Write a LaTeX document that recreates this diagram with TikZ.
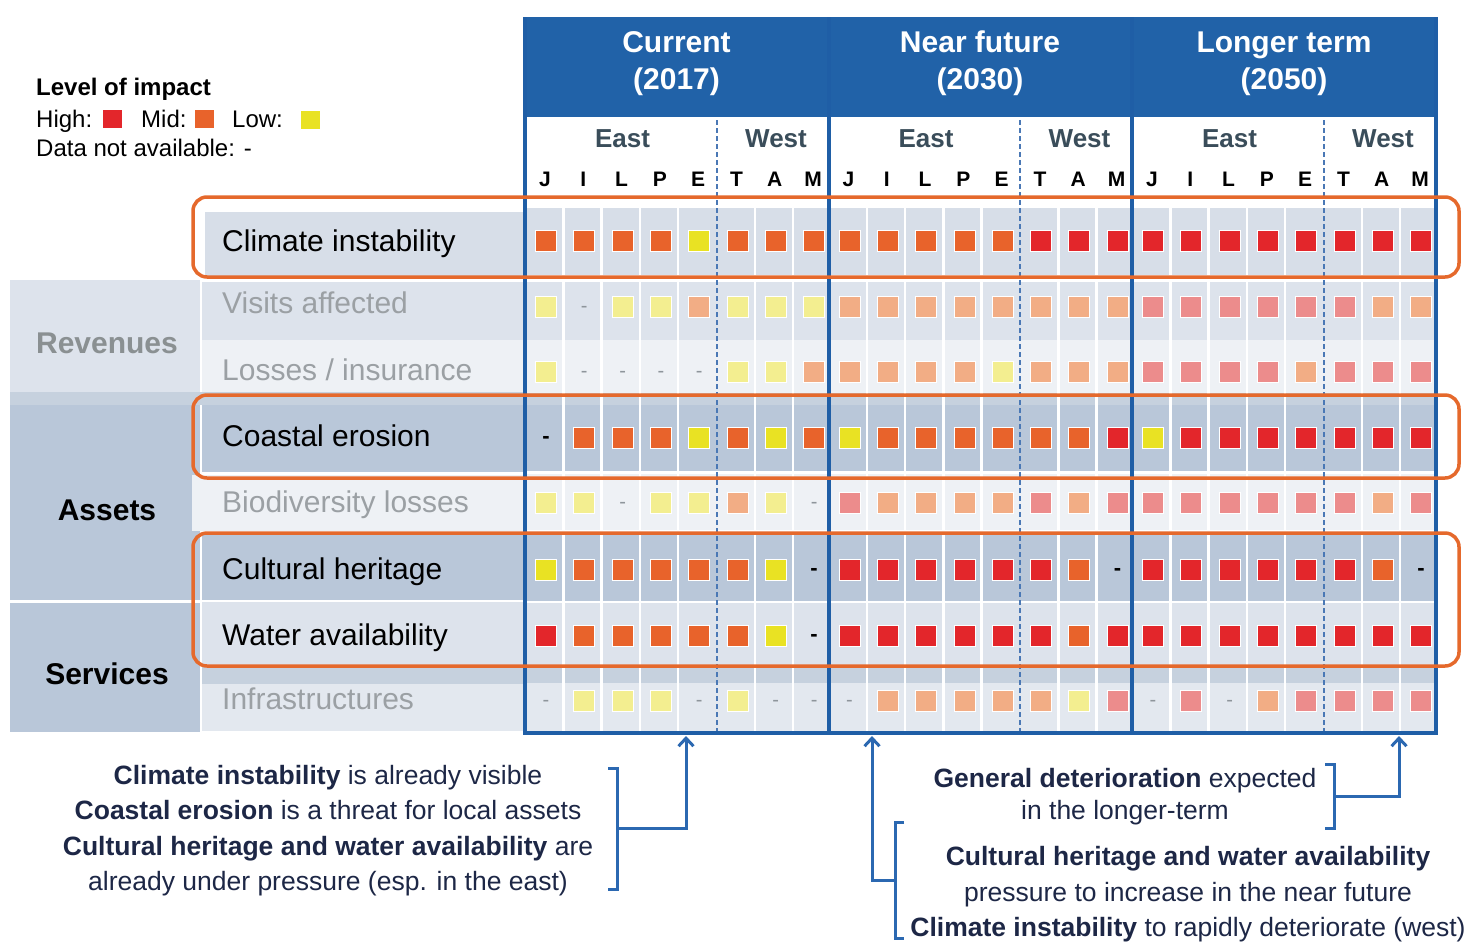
\documentclass[tikz,border=0pt]{standalone}
\usepackage{fontspec}
\setmainfont{Liberation Sans}
\usetikzlibrary{arrows.meta}
\definecolor{headBlue}{HTML}{2162A8}
\definecolor{frameBlue}{HTML}{1F5EA6}
\definecolor{dashBlue}{HTML}{4A78B5}
\definecolor{hlOrange}{HTML}{E5692C}
\definecolor{bandDark}{HTML}{B9C7D9}
\definecolor{bandMid}{HTML}{DDE3EC}
\definecolor{bandLight}{HTML}{EEF1F5}
\definecolor{bandClim}{HTML}{D7DEE8}
\definecolor{stripDark}{HTML}{C6D1DE}
\definecolor{bandInfra}{HTML}{E3E8EF}
\definecolor{labGray}{HTML}{9BA0A4}
\definecolor{revGray}{HTML}{8A9092}
\definecolor{regionCol}{HTML}{3A4D5A}
\definecolor{noteCol}{HTML}{1D2746}
\definecolor{arrBlue}{HTML}{2B68B1}
\definecolor{dashGray}{HTML}{8E959B}
\definecolor{cH}{HTML}{E3262B}
\definecolor{cM}{HTML}{E8632B}
\definecolor{cL}{HTML}{E9E223}
\definecolor{ch}{HTML}{EC8C8C}
\definecolor{cm}{HTML}{F2AD85}
\definecolor{cl}{HTML}{F3EE90}
\newcommand\myfs[1]{\fontsize{#1}{#1}\selectfont}
\begin{document}
\begin{tikzpicture}[x=1pt,y=-1pt,
  every node/.style={inner sep=0},
  rowlab/.style={anchor=base west, font=\myfs{30}, text=black},
  rowlabdim/.style={rowlab, text=labGray},
  catlab/.style={anchor=base, font=\bfseries\myfs{30}},
  period/.style={align=center, text=white, font=\bfseries\fontsize{30}{37}\selectfont},
  region/.style={anchor=base, font=\bfseries\myfs{26}, text=regionCol},
  letter/.style={anchor=base, font=\bfseries\myfs{21}, text=black},
  legtxt/.style={anchor=base west, font=\myfs{24}, text=black},
  legsq/.style={minimum width=19, minimum height=18},
  cell/.style={rectangle, minimum size=21, draw=white, line width=0.8},
  cellH/.style={cell, fill=cH}, cellM/.style={cell, fill=cM}, cellL/.style={cell, fill=cL},
  cellh/.style={cell, fill=ch}, cellm/.style={cell, fill=cm}, celll/.style={cell, fill=cl},
  dashD/.style={font=\bfseries\myfs{22}, text=black, yshift=-2pt},
  dashd/.style={font=\myfs{20}, text=dashGray, yshift=-2pt},
  hl/.style={draw=hlOrange, line width=3.5, rounded corners=14},
  frame/.style={draw=frameBlue, line width=4},
  dashline/.style={draw=dashBlue, line width=2, dash pattern=on 5pt off 3pt},
  note/.style={align=center, text=noteCol},
  brk/.style={draw=arrBlue, line width=3},
  arr/.style={brk, -{Straight Barb[length=8pt,width=15pt]}}
]
\useasboundingbox (0,0) rectangle (1471,943);

% ---------- legend ----------
\node[anchor=base west, font=\bfseries\myfs{24}] (legT) at (36,95) {Level of impact};
\node[legtxt] (legH) at (36,127) {High:};
\node[legsq, fill=cH] (sqH) at (112.5,119) {};
\node[legtxt] (legM) at (141,127) {Mid:};
\node[legsq, fill=cM] (sqM) at (204,119) {};
\node[legtxt] (legL) at (232,127) {Low:};
\node[legsq, fill=cL] (sqL) at (310,120) {};
\node[legtxt] (legNA) at (36,156) {Data not available: -};

% ---------- grid row bands ----------
\fill[bandClim] (527,208) rectangle (1434,275);
\fill[bandMid] (527,282) rectangle (1434,340);
\fill[bandLight] (527,340) rectangle (1434,393);
\fill[stripDark] (527,393) rectangle (1434,405);
\fill[bandDark] (527,405) rectangle (1434,471);
\fill[bandLight] (527,474) rectangle (1434,530);
\fill[bandDark] (527,535) rectangle (1434,601);
\fill[bandMid] (527,603) rectangle (1434,666);
\fill[stripDark] (527,666) rectangle (1434,683);
\fill[bandInfra] (527,683) rectangle (1434,731);

% ---------- label columns ----------
\fill[bandClim] (205,212) rectangle (525,276);
\fill[bandMid] (10,280) rectangle (200,392);
\fill[bandMid] (202,282) rectangle (525,340);
\fill[bandLight] (202,340) rectangle (525,392);
\fill[stripDark] (10,392) rectangle (525,405);
\fill[bandDark] (10,405) rectangle (200,600);
\fill[bandDark] (202,405) rectangle (525,472);
\fill[bandLight] (192,475) rectangle (525,531);
\fill[bandDark] (202,535) rectangle (525,600);
\fill[bandDark] (10,603) rectangle (200,732);
\fill[bandMid] (202,602) rectangle (525,666);
\fill[stripDark] (202,666) rectangle (525,684);
\fill[bandInfra] (202,684) rectangle (525,731);

% white column separators
\foreach \p in {0,1,2}{
  \foreach \k in {1,2,3,4,6,7}{
    \draw[white, line width=2.5] (525+303.5*\p+38.3*\k,200) -- (525+303.5*\p+38.3*\k,731);
  }
}

% ---------- labels ----------
\node[catlab, text=revGray] (cRev) at (107,353) {Revenues};
\node[catlab] (cAss) at (107,520) {Assets};
\node[catlab] (cSer) at (107,684) {Services};

\node[rowlab] (rClim) at (222,251) {Climate instability};
\node[rowlabdim] (rVis) at (222,313) {Visits affected};
\node[rowlabdim] (rLos) at (222,380) {Losses / insurance};
\node[rowlab] (rCoa) at (222,446) {Coastal erosion};
\node[rowlabdim] (rBio) at (222,512) {Biodiversity losses};
\node[rowlab] (rCul) at (222,579) {Cultural heritage};
\node[rowlab] (rWat) at (222,645) {Water availability};
\node[rowlabdim] (rInf) at (222,709) {Infrastructures};

% ---------- header ----------
\fill[headBlue] (525,17) rectangle (1437,117);
\draw[white, opacity=0.5, line width=1] (828.5,17) -- (828.5,117) (1132,17) -- (1132,117);
\node[period] (pCur) at (676.5,63.5) {Current\\(2017)};
\node[period] (pNear) at (980,63.5) {Near future\\(2030)};
\node[period] (pLong) at (1284,63.5) {Longer term\\(2050)};
\foreach \p in {0,1,2}{
  \node[region] (east\p) at (622.5+303.5*\p,147) {East};
  \node[region] (west\p) at (776+303.5*\p,147) {West};
  \foreach \L [count=\k from 0] in {J,I,L,P,E,T,A,M}{
    \node[letter] (h\p-\k) at (545+303.5*\p+38.3*\k,186) {\L};
  }
}

% ---------- cells ----------
\foreach \yy/\codes [count=\r] in {
  241/{M,M,M,M,L,M,M,M,M,M,M,M,M,H,H,H,H,H,H,H,H,H,H,H},
  307/{l,d,l,l,m,l,l,l,m,m,m,m,m,m,m,m,h,h,h,h,h,h,m,m},
  372/{l,d,d,d,d,l,l,m,m,m,m,m,l,m,m,m,h,h,h,h,m,h,h,h},
  438/{D,M,M,M,L,M,L,M,L,M,M,M,M,M,M,H,L,H,H,H,H,H,H,H},
  503/{l,l,d,l,l,m,l,d,h,m,m,m,m,h,m,h,h,h,h,h,h,h,m,h},
  570/{L,M,M,M,M,M,L,D,H,H,H,H,H,H,M,D,H,H,H,H,H,H,M,D},
  636/{H,M,M,M,M,M,L,D,H,H,H,H,H,H,M,H,H,H,H,H,H,H,H,H},
  701/{d,l,l,l,d,l,d,d,d,m,m,m,m,m,l,h,d,h,d,m,h,h,h,h}}{
  \foreach \c [count=\i from 0] in \codes {
    \pgfmathsetmacro\cx{546+int(\i/8)*303.5+mod(\i,8)*38.3}
    \if\c D \node[dashD] (c\r-\i) at (\cx,\yy) {-};
    \else\if\c d \node[dashd] (c\r-\i) at (\cx,\yy) {-};
    \else \node[cell\c] (c\r-\i) at (\cx,\yy) {};
    \fi\fi
  }
}

% ---------- frame ----------
\foreach \xx in {716.5,1020,1323.5}{
  \draw[dashline] (\xx,120) -- (\xx,731);
}
\foreach \xx in {525,828.5,1132,1435.5}{
  \draw[frame] (\xx,17) -- (\xx,735);
}
\draw[frame] (523,733) -- (1437.5,733);

% ---------- highlight boxes ----------
\draw[hl] (193,197) rectangle (1459,277);
\draw[hl] (193,395) rectangle (1459,478);
\draw[hl] (193,533) rectangle (1459,666);

% ---------- notes ----------
\node[note, font=\fontsize{26.5}{35.3}\selectfont] (nLeft) at (328,830.5)
  {\textbf{Climate instability} is already visible\\
   \textbf{Coastal erosion} is a threat for local assets\\
   \textbf{Cultural heritage and water availability} are\\
   already under pressure (esp. in the east)};
\node[note, font=\fontsize{26.5}{32}\selectfont] (nTop) at (1125,796.5)
  {\textbf{General deterioration} expected\\ in the longer-term};
\node[note, font=\fontsize{26.5}{35.5}\selectfont] (nLow) at (1188,894.5)
  {\textbf{Cultural heritage and water availability}\\
   pressure to increase in the near future\\
   \textbf{Climate instability} to rapidly deteriorate (west)};

% ---------- brackets and arrows ----------
\coordinate (b1t) at (617,768);
\coordinate (b1b) at (617,889);
\coordinate (b1m) at (617,828);
\coordinate (t1) at (686,736);
\draw[brk] ([xshift=-9pt]b1t) -- (b1t) -- (b1b) -- ([xshift=-9pt]b1b);
\draw[arr] (b1m) -| (t1);

\coordinate (b2t) at (1334,764);
\coordinate (b2b) at (1334,828);
\coordinate (b2m) at (1334,796);
\coordinate (t2) at (1399,736);
\draw[brk] ([xshift=-9pt]b2t) -- (b2t) -- (b2b) -- ([xshift=-9pt]b2b);
\draw[arr] (b2m) -| (t2);

\coordinate (b3t) at (895,822);
\coordinate (b3b) at (895,938);
\coordinate (b3m) at (895,880);
\coordinate (t3) at (872,736);
\draw[brk] ([xshift=9pt]b3t) -- (b3t) -- (b3b) -- ([xshift=9pt]b3b);
\draw[arr] (b3m) -| (t3);
\end{tikzpicture}
\end{document}
